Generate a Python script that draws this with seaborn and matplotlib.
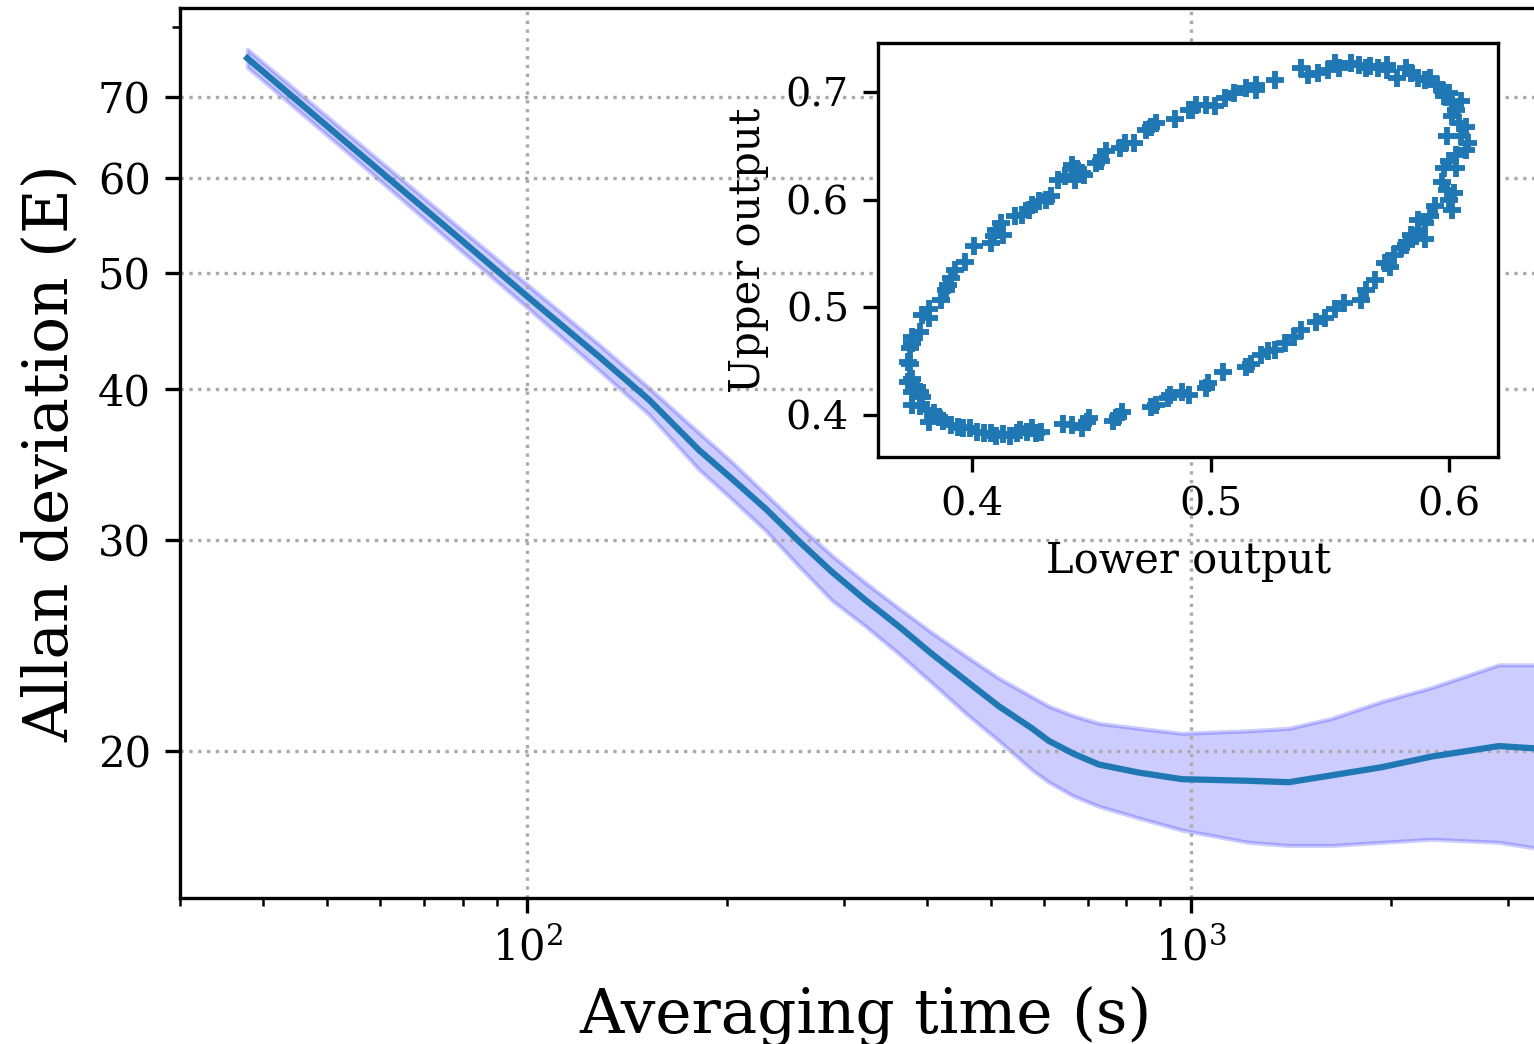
import numpy as np
import pandas as pd
import matplotlib
matplotlib.use("Agg")
import matplotlib.pyplot as plt
import matplotlib.ticker as mticker
import seaborn as sns

# main curve: averaging time (s), Allan deviation (E) with its band
tau = [37.9, 53.9, 76.3, 100, 128.3, 152.7, 181.6, 203.6, 229.1, 256.8, 287.9,
       323.9, 363.3, 407.3, 458.3, 513.9, 576.3, 611.2, 666.6, 726.9, 835.1,
       969.2, 1222, 1405, 1631, 1940, 2307, 2911, 3350]
adev = [75.4, 63.9, 54.3, 47.8, 42.6, 39.2, 35.6, 33.7, 31.8, 29.9, 28.2,
        26.7, 25.4, 24.1, 22.9, 21.8, 20.9, 20.4, 19.9, 19.5, 19.2,
        18.96, 18.9, 18.85, 19.1, 19.4, 19.8, 20.2, 20.1]
adev_hi = [76.7, 65.1, 55.4, 48.9, 43.6, 40.1, 36.8, 34.8, 32.7, 30.8, 29.1,
           27.6, 26.3, 25.1, 24.0, 23.0, 22.2, 21.8, 21.4, 21.1, 20.9,
           20.7, 20.8, 20.9, 21.3, 22.0, 22.6, 23.6, 23.6]
adev_lo = [74.1, 62.8, 53.2, 46.8, 41.5, 38.1, 34.3, 32.4, 30.5, 28.5, 26.7,
           25.4, 24.1, 22.8, 21.5, 20.4, 19.3, 18.85, 18.35, 18.0, 17.6,
           17.2, 16.8, 16.7, 16.7, 16.8, 16.9, 16.8, 16.6]

# inset: lower vs upper output
lower_out = [0.387, 0.382, 0.379, 0.382, 0.378, 0.375, 0.375, 0.374, 0.373, 0.374,
             0.373, 0.375, 0.377, 0.375, 0.378, 0.379, 0.375, 0.378, 0.381, 0.384,
             0.386, 0.382, 0.388, 0.391, 0.394, 0.396, 0.399, 0.402, 0.405, 0.408,
             0.410, 0.413, 0.416, 0.419, 0.420, 0.423, 0.425, 0.427, 0.429, 0.438,
             0.442, 0.446, 0.448, 0.449, 0.459, 0.461, 0.463, 0.475, 0.477, 0.482,
             0.483, 0.488, 0.491, 0.498, 0.499, 0.505, 0.515, 0.517, 0.521, 0.524,
             0.527, 0.531, 0.535, 0.538, 0.544, 0.548, 0.552, 0.556, 0.563, 0.565,
             0.569, 0.575, 0.573, 0.577, 0.580, 0.582, 0.590, 0.586, 0.584, 0.587,
             0.587, 0.590, 0.592, 0.594, 0.601, 0.600, 0.602, 0.599, 0.597, 0.603,
             0.598, 0.600, 0.603, 0.607, 0.608, 0.605, 0.599, 0.607, 0.604, 0.601,
             0.603, 0.605, 0.601, 0.600, 0.598, 0.597, 0.595, 0.592, 0.590, 0.587,
             0.584, 0.582, 0.578, 0.574, 0.574, 0.570, 0.567, 0.565, 0.562, 0.559,
             0.554, 0.552, 0.549, 0.545, 0.541, 0.538, 0.527, 0.519, 0.519, 0.515,
             0.510, 0.506, 0.502, 0.498, 0.494, 0.492, 0.491, 0.485, 0.477, 0.475,
             0.473, 0.468, 0.464, 0.462, 0.456, 0.454, 0.452, 0.447, 0.446, 0.444,
             0.443, 0.442, 0.439, 0.436, 0.433, 0.431, 0.428, 0.425, 0.424, 0.421,
             0.418, 0.413, 0.412, 0.410, 0.409, 0.408, 0.401, 0.397, 0.393, 0.391,
             0.390, 0.389]
upper_out = [0.507, 0.498, 0.493, 0.490, 0.477, 0.472, 0.467, 0.462, 0.449, 0.447,
             0.431, 0.433, 0.426, 0.421, 0.421, 0.417, 0.409, 0.408, 0.405, 0.402,
             0.398, 0.393, 0.394, 0.391, 0.389, 0.388, 0.388, 0.384, 0.383, 0.383,
             0.380, 0.382, 0.380, 0.383, 0.386, 0.384, 0.388, 0.383, 0.384, 0.392,
             0.391, 0.388, 0.393, 0.397, 0.394, 0.398, 0.403, 0.407, 0.409, 0.416,
             0.419, 0.421, 0.419, 0.425, 0.430, 0.440, 0.445, 0.447, 0.456, 0.459,
             0.460, 0.467, 0.472, 0.479, 0.486, 0.490, 0.498, 0.504, 0.507, 0.516,
             0.525, 0.537, 0.541, 0.549, 0.555, 0.558, 0.563, 0.566, 0.567, 0.572,
             0.581, 0.578, 0.585, 0.594, 0.590, 0.600, 0.606, 0.609, 0.616, 0.629,
             0.629, 0.636, 0.641, 0.646, 0.653, 0.659, 0.659, 0.667, 0.671, 0.678,
             0.683, 0.692, 0.690, 0.699, 0.696, 0.702, 0.706, 0.713, 0.711, 0.713,
             0.718, 0.722, 0.713, 0.720, 0.725, 0.722, 0.724, 0.722, 0.725, 0.727,
             0.722, 0.727, 0.720, 0.718, 0.716, 0.722, 0.711, 0.702, 0.706, 0.704,
             0.699, 0.694, 0.687, 0.688, 0.688, 0.683, 0.683, 0.675, 0.671, 0.667,
             0.665, 0.653, 0.653, 0.648, 0.645, 0.636, 0.634, 0.623, 0.625, 0.628,
             0.618, 0.632, 0.622, 0.618, 0.603, 0.600, 0.599, 0.595, 0.590, 0.586,
             0.585, 0.567, 0.578, 0.572, 0.566, 0.560, 0.557, 0.542, 0.535, 0.527,
             0.521, 0.516]

plt.rcParams["font.family"] = ["DejaVu Serif"]
plt.rcParams["mathtext.fontset"] = "dejavuserif"

df = pd.DataFrame({"tau": tau, "adev": adev, "lo": adev_lo, "hi": adev_hi})
scat = pd.DataFrame({"lower": lower_out, "upper": upper_out})

fig = plt.figure(figsize=(1534 / 300, 1044 / 300), dpi=300)
ax = fig.add_axes([0.1173, 0.1398, 0.8944, 0.8525])

ax.fill_between(df["tau"], df["lo"], df["hi"], color="blue", alpha=0.2)
sns.lineplot(data=df, x="tau", y="adev", ax=ax, color="#1f77b4", lw=1.5)

ax.set_xscale("log")
ax.set_yscale("log")
ax.set_xlim(30, 3500)
ax.set_ylim(15.1, 83)
ax.yaxis.set_major_locator(mticker.FixedLocator([20, 30, 40, 50, 60, 70]))
ax.yaxis.set_major_formatter(mticker.FixedFormatter(["20", "30", "40", "50", "60", "70"]))
ax.yaxis.set_minor_locator(mticker.FixedLocator([80]))
ax.yaxis.set_minor_formatter(mticker.NullFormatter())
ax.tick_params(labelsize=10)
ax.grid(True, which="major", ls=":", color="#aaaaaa", lw=0.8)
ax.spines["right"].set_visible(False)
ax.set_xlabel("Averaging time (s)", fontsize=14.7)
ax.set_ylabel("Allan deviation (E)", fontsize=14.7)

# inset
ax_in = fig.add_axes([0.5724, 0.5623, 0.4042, 0.3966])
sns.scatterplot(data=scat, x="lower", y="upper", ax=ax_in, marker="+",
                color="#1f77b4", s=20, linewidth=1.4)
ax_in.set_xlim(0.3606, 0.6205)
ax_in.set_ylim(0.361, 0.7455)
ax_in.set_xticks([0.4, 0.5, 0.6])
ax_in.set_yticks([0.4, 0.5, 0.6, 0.7])
ax_in.tick_params(labelsize=9.5)
ax_in.set_xlabel("Lower output", fontsize=10)
ax_in.set_ylabel("Upper output", fontsize=10)

fig.savefig("out.png", dpi=300)
